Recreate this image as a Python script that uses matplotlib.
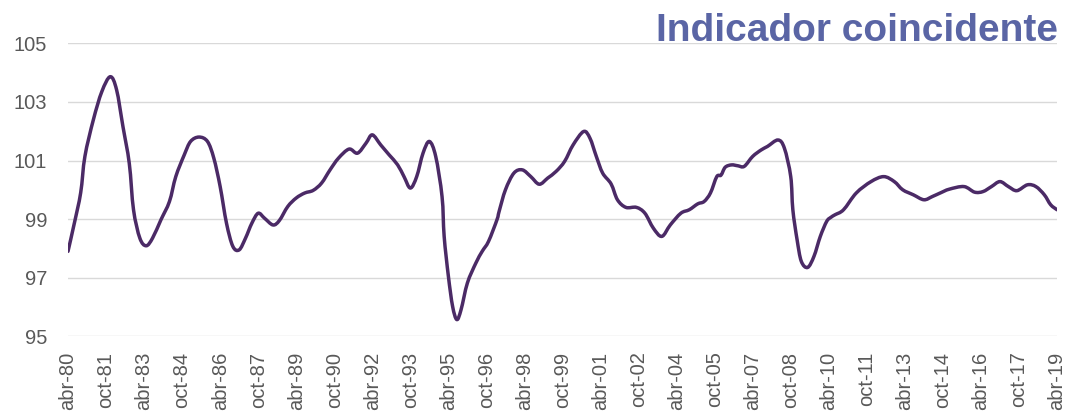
import matplotlib
matplotlib.use('Agg')
import matplotlib.pyplot as plt
from matplotlib.path import Path
from matplotlib.patches import PathPatch
import numpy as np
import pandas as pd

fechas = ['1980-04', '1980-07', '1980-10', '1980-12', '1981-04', '1981-08', '1981-12',
          '1982-03', '1982-06', '1982-09', '1982-11', '1983-02', '1983-05', '1983-08',
          '1983-12', '1984-04', '1984-07', '1984-11', '1985-02', '1985-06', '1985-10',
          '1986-01', '1986-04', '1986-07', '1986-10', '1987-01', '1987-04', '1987-07',
          '1987-10', '1988-01', '1988-05', '1988-08', '1988-12', '1989-04', '1989-08',
          '1989-12', '1990-04', '1990-08', '1990-12', '1991-05', '1991-09', '1992-01',
          '1992-04', '1992-08', '1992-12', '1993-04', '1993-07', '1993-10', '1994-01',
          '1994-04', '1994-07', '1994-10', '1995-01', '1995-02', '1995-04', '1995-06',
          '1995-08', '1995-10', '1996-01', '1996-05', '1996-08', '1996-11', '1997-03',
          '1997-04', '1997-07', '1997-11', '1998-03', '1998-07', '1998-11', '1999-03',
          '1999-07', '1999-11', '2000-03', '2000-08', '2000-11', '2001-02', '2001-05',
          '2001-09', '2001-12', '2002-04', '2002-09', '2003-01', '2003-05', '2003-09',
          '2004-01', '2004-06', '2004-10', '2005-02', '2005-05', '2005-08', '2005-11',
          '2006-01', '2006-03', '2006-06', '2006-09', '2006-12', '2007-04', '2007-08',
          '2007-11', '2008-04', '2008-07', '2008-10', '2008-11', '2009-01', '2009-03',
          '2009-06', '2009-09', '2009-12', '2010-03', '2010-05', '2010-07', '2010-11',
          '2011-05', '2011-12', '2012-06', '2012-11', '2013-03', '2013-08', '2014-01',
          '2014-05', '2014-09', '2015-01', '2015-08', '2016-01', '2016-05', '2016-09',
          '2017-01', '2017-05', '2017-09', '2018-02', '2018-06', '2018-10', '2019-01',
          '2019-04']
valores = [97.9, 98.86, 99.9, 101.14, 102.39, 103.35, 103.86,
           103.41, 102.16, 100.9, 99.32, 98.35, 98.09, 98.35,
           98.98, 99.6, 100.45, 101.19, 101.65, 101.8, 101.65,
           101.08, 100.11, 98.86, 98.07, 97.95, 98.35, 98.86,
           99.2, 99.03, 98.8, 98.95, 99.43, 99.72, 99.89,
           99.98, 100.23, 100.68, 101.08, 101.39, 101.25, 101.59,
           101.875, 101.53, 101.19, 100.85, 100.45, 100.06, 100.45,
           101.25, 101.65, 101.14, 99.77, 98.41, 97.05, 96.02,
           95.57, 95.91, 96.82, 97.5, 97.9, 98.24, 98.98,
           99.26, 100.0, 100.57, 100.68, 100.45, 100.19, 100.4,
           100.63, 100.97, 101.53, 101.99, 101.76, 101.14, 100.57,
           100.2, 99.66, 99.4, 99.4, 99.2, 98.69, 98.41,
           98.8, 99.2, 99.32, 99.52, 99.6, 99.89, 100.45,
           100.5, 100.77, 100.85, 100.82, 100.8, 101.14, 101.36,
           101.48, 101.7, 101.42, 100.45, 99.32, 98.3, 97.56,
           97.35, 97.73, 98.41, 98.92, 99.06, 99.15, 99.32,
           99.89, 100.28, 100.45, 100.28, 100.0, 99.83, 99.66,
           99.77, 99.9, 100.02, 100.11, 99.92, 99.94, 100.11,
           100.28, 100.11, 99.97, 100.17, 100.11, 99.83, 99.49,
           99.32]

y_ticks = [95, 97, 99, 101, 103, 105]
meses = {1: 'ene', 2: 'feb', 3: 'mar', 4: 'abr', 5: 'may', 6: 'jun',
         7: 'jul', 8: 'ago', 9: 'sep', 10: 'oct', 11: 'nov', 12: 'dic'}
titulo = 'Indicador coincidente'

fechas = pd.to_datetime(fechas)
inicio = fechas[0]
x = np.asarray((fechas.year - inicio.year) * 12 + (fechas.month - inicio.month), dtype=float)
y = np.asarray(valores, dtype=float)


def smooth_path(xs, ys):
    # Excel-style smoothed line: cubic bezier through every point
    pts = np.column_stack([xs, ys])
    ext = np.vstack([pts[0], pts, pts[-1]])
    verts = [pts[0]]
    codes = [Path.MOVETO]
    for i in range(len(pts) - 1):
        p0, p1, p2, p3 = ext[i], ext[i + 1], ext[i + 2], ext[i + 3]
        verts += [p1 + (p2 - p0) / 6, p2 - (p3 - p1) / 6, p2]
        codes += [Path.CURVE4] * 3
    return Path(verts, codes)


fig = plt.figure(figsize=(10.69, 4.13), dpi=100)
ax = fig.add_axes([68 / 1069, 76.7 / 413, 989 / 1069, 293 / 413])

ax.add_patch(PathPatch(smooth_path(x, y), fill=False, edgecolor='#4B2A66', lw=2.5,
                       joinstyle='round', capstyle='round', zorder=3))

ax.set_ylim(95, 105)
ax.set_xlim(0, x[-1])
ax.set_yticks(y_ticks)
ax.set_yticklabels([str(v) for v in y_ticks])
ax.grid(axis='y', color='#D9D9D9', lw=1)
ax.set_axisbelow(True)

tick_fechas = pd.date_range(inicio, fechas[-1], freq='18MS')
tick_x = (tick_fechas.year - inicio.year) * 12 + (tick_fechas.month - inicio.month)
ax.set_xticks(tick_x)
ax.set_xticklabels(['{}-{:02d}'.format(meses[d.month], d.year % 100) for d in tick_fechas],
                   rotation=90, va='top', ha='center')

for s in ax.spines.values():
    s.set_visible(False)
ax.tick_params(axis='both', length=0, colors='#595959', labelsize=14.5)
ax.tick_params(axis='x', pad=11)
ax.tick_params(axis='y', pad=15)
for lbl in ax.get_xticklabels() + ax.get_yticklabels():
    lbl.set_fontfamily('Liberation Sans')

fig.text(1058 / 1069, 1 - 41 / 413, titulo, ha='right', va='baseline',
         fontsize=28, fontweight='bold', color='#5A65A5', family='Liberation Sans')

fig.savefig('out.png', dpi=100)
